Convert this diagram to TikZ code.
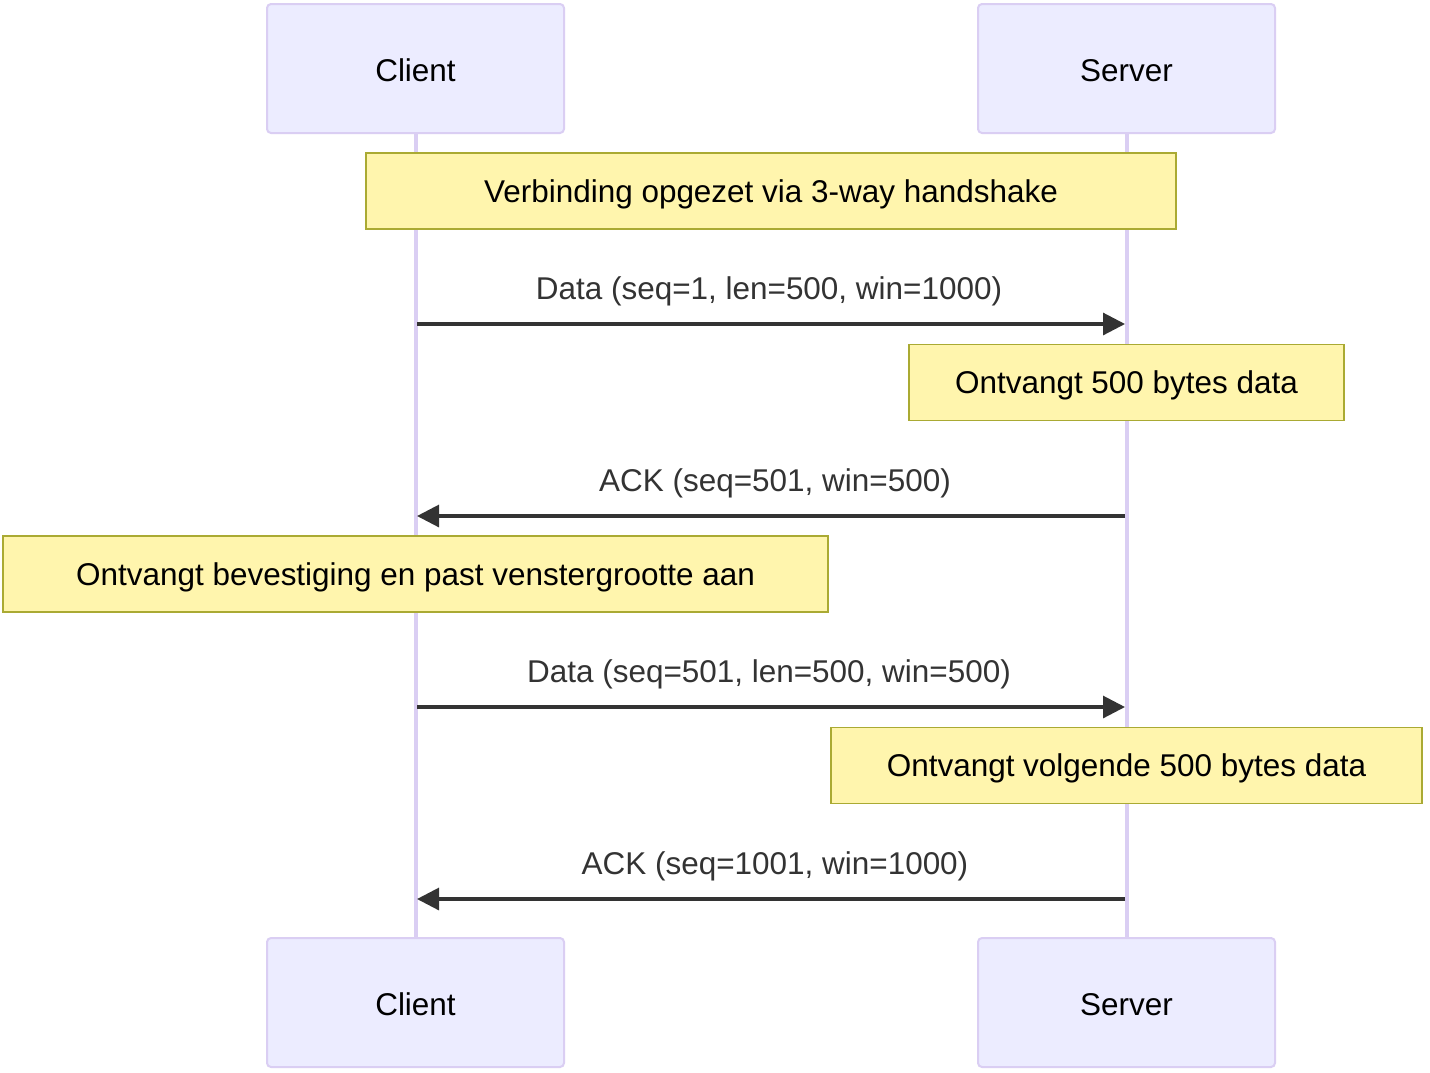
\documentclass[tikz,border=0pt]{standalone}
\usepackage{fontspec}
\setmainfont{Liberation Sans}
\usetikzlibrary{arrows.meta}
\definecolor{actfill}{HTML}{ECECFF}
\definecolor{actline}{HTML}{DACEF3}
\definecolor{notefill}{HTML}{FFF5AD}
\definecolor{noteline}{HTML}{AAAA33}
\definecolor{msgc}{HTML}{333333}
\begin{document}
\begin{tikzpicture}[x=0.75pt,y=-0.75pt,
  actor/.style={draw=actline,fill=actfill,line width=1.5pt,rounded corners=3pt,minimum width=222.75pt,minimum height=96.75pt,inner sep=0pt,text height=23.5pt,text depth=4.5pt,font=\fontsize{23.6}{28}\selectfont},
  note/.style={draw=noteline,fill=notefill,line width=1.1pt,inner sep=0pt,minimum height=57pt,text height=21.5pt,text depth=4.5pt,font=\fontsize{23.6}{28}\selectfont},
  life/.style={draw=actline,line width=3pt},
  msg/.style={draw=msgc,line width=2.3pt,-{Triangle[length=16.5pt,width=16.5pt]}},
  lbl/.style={text=msgc,font=\fontsize{23.6}{28}\selectfont,inner sep=0pt}]
\useasboundingbox (0,0) rectangle (1430,1072);
\fill[white] (0,0) rectangle (1430,1072);
% lifelines
\coordinate (cl1) at (415.5,133);
\coordinate (cl2) at (415.5,938);
\coordinate (sl1) at (1126.5,133);
\coordinate (sl2) at (1126.5,938);
\draw[life] (cl1) -- (cl2);
\draw[life] (sl1) -- (sl2);
% actors
\node[actor] (ct) at (415.5,68.5) {Client};
\node[actor] (st) at (1126.5,68.5) {Server};
\node[actor] (cb) at (415.5,1002.5) {Client};
\node[actor] (sb) at (1126.5,1002.5) {Server};
% notes
\node[note,minimum width=607.5pt] (n1) at (771,191) {Verbinding opgezet via 3-way handshake};
\node[note,minimum width=326.25pt] (n2) at (1126.5,382.5) {Ontvangt 500 bytes data};
\node[note,minimum width=618.75pt] (n3) at (415.5,574) {Ontvangt bevestiging en past venstergrootte aan};
\node[note,minimum width=443.25pt] (n4) at (1126.5,765.5) {Ontvangt volgende 500 bytes data};
% message coordinates
\coordinate (c1) at (417,324); \coordinate (s1) at (1125,324);
\coordinate (s2) at (1125,516); \coordinate (c2) at (417,516);
\coordinate (c3) at (417,707); \coordinate (s3) at (1125,707);
\coordinate (s4) at (1125,899); \coordinate (c4) at (417,899);
\draw[msg] (c1) -- (s1);
\draw[msg] (s2) -- (c2);
\draw[msg] (c3) -- (s3);
\draw[msg] (s4) -- (c4);
\node[lbl] (m1) at (769,291) {Data (seq=1, len=500, win=1000)};
\node[lbl] (m2) at (775,483) {ACK (seq=501, win=500)};
\node[lbl] (m3) at (769,674) {Data (seq=501, len=500, win=500)};
\node[lbl] (m4) at (775,866) {ACK (seq=1001, win=1000)};
\end{tikzpicture}
\end{document}
